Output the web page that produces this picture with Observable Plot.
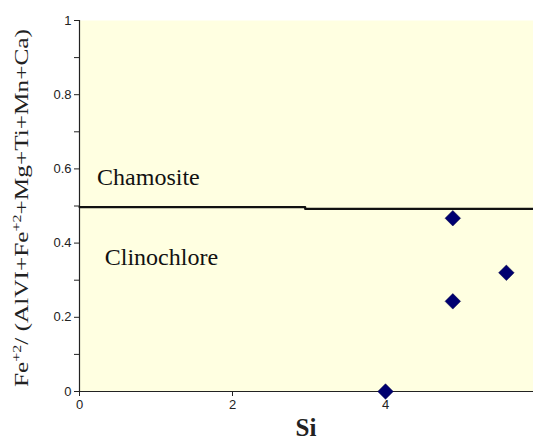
<!DOCTYPE html>
<html><head><meta charset="utf-8">
<script src="https://cdn.jsdelivr.net/npm/d3@7"></script>
<script src="https://cdn.jsdelivr.net/npm/@observablehq/plot@0.6"></script>
<style>
html,body{margin:0;padding:0;background:#fff;overflow:hidden;}
</style>
</head><body><div id="chart"></div>
<script>
const siValues = [4.0, 4.88, 4.88, 5.58];
const feRatio = [0.0, 0.467, 0.243, 0.32];
const boundaryX = [0, 2.95, 2.95, 6];
const boundaryY = [0.497, 0.497, 0.492, 0.492];
const xTicks = [0, 2, 4, 6];
const yTicks = [0, 0.2, 0.4, 0.6, 0.8, 1];
const yMinorTicks = [0.1, 0.3, 0.5, 0.7, 0.9];
const regionLabels = ["Chamosite", "Clinochlore"];
const regionLabelX = [0.23, 0.33];
const regionLabelY = [0.577, 0.361];

const pts = siValues.map((x, i) => ({x, y: feRatio[i]}));
const boundary = boundaryX.map((x, i) => ({x, y: boundaryY[i]}));
const labels = regionLabels.map((t, i) => ({t, x: regionLabelX[i], y: regionLabelY[i]}));
const serif = "Liberation Serif, Times New Roman, serif";

const chart = Plot.plot({
  width: 533,
  height: 443,
  marginLeft: 79,
  marginRight: -5,
  marginTop: 20,
  marginBottom: 52,
  style: {fontFamily: "Liberation Sans, Arial, sans-serif", fontSize: "13px", background: "white", color: "#222"},
  x: {type: "linear", domain: [0, 6], label: null},
  y: {type: "linear", domain: [0, 1], label: null},
  marks: [
    Plot.frame({fill: "#ffffe1", stroke: null}),
    Plot.axisX({ticks: xTicks, tickSize: 5, tickPadding: 3, tickFormat: d => String(d), label: null, stroke: "#222", fill: "#222"}),
    Plot.axisY({ticks: yTicks, tickSize: 5, tickPadding: 3, tickFormat: d => String(d), label: null, stroke: "#222", fill: "#222"}),
    Plot.axisY({ticks: yMinorTicks, tickSize: 5, tickFormat: () => "", label: null, stroke: "#222"}),
    Plot.ruleX([0], {stroke: "#222", strokeWidth: 1.2}),
    Plot.ruleY([0], {stroke: "#222", strokeWidth: 1.2}),
    Plot.line(boundary, {x: "x", y: "y", stroke: "#111", strokeWidth: 2.2}),
    Plot.text(labels, {x: "x", y: "y", text: "t", textAnchor: "start", fontFamily: serif, fontSize: 24, fill: "#111"}),
    Plot.dot(pts, {x: "x", y: "y", symbol: "diamond2", r: 7, fill: "#000070", stroke: "#000040", strokeWidth: 0.5})
  ]
});
document.getElementById("chart").appendChild(chart);

const svg = d3.select(chart);
svg.selectAll("text")
  .filter(function() { return regionLabels.includes(this.textContent.trim()); })
  .attr("font-family", serif)
  .style("font-family", serif)
  .style("font-size", "24px");

const ylab = svg.append("text")
  .attr("transform", "translate(28,208) rotate(-90)")
  .attr("text-anchor", "middle")
  .style("font-family", serif)
  .attr("font-size", 19)
  .attr("fill", "#222")
  .attr("textLength", 358)
  .attr("lengthAdjust", "spacingAndGlyphs");
ylab.append("tspan").text("Fe");
ylab.append("tspan").attr("dy", -7).attr("font-size", 12).text("+2");
ylab.append("tspan").attr("dy", 7).text("/ (AlVI+Fe");
ylab.append("tspan").attr("dy", -7).attr("font-size", 12).text("+2");
ylab.append("tspan").attr("dy", 7).text("+Mg+Ti+Mn+Ca)");

svg.append("text")
  .attr("x", 306).attr("y", 436)
  .attr("text-anchor", "middle")
  .style("font-family", serif)
  .attr("font-weight", "bold")
  .attr("font-size", 25)
  .attr("fill", "#222")
  .text("Si");
</script>
</body></html>
